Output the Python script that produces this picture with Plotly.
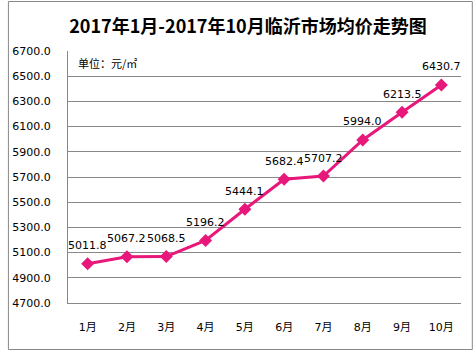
import plotly.graph_objects as go

months = ["1月", "2月", "3月", "4月", "5月", "6月", "7月", "8月", "9月", "10月"]
prices = [5011.8, 5067.2, 5068.5, 5196.2, 5444.1, 5682.4, 5707.2, 5994.0, 6213.5, 6430.7]
y_ticks = [4700, 4900, 5100, 5300, 5500, 5700, 5900, 6100, 6300, 6500, 6700]
title_text = "2017年1月-2017年10月临沂市场均价走势图"
unit_text = "单位：元/㎡"

W, H = 475, 353
ml, mr, mt, mb = 62, 14, 51, 50
pw, ph = W - ml - mr, H - mt - mb

LINE = "#E8187B"
FONT = "DejaVu Sans, Noto Sans CJK SC"

fig = go.Figure()
fig.add_trace(go.Scatter(
    x=months, y=prices, mode="lines+markers",
    line=dict(color=LINE, width=3),
    marker=dict(symbol="diamond", size=10, color=LINE),
    hoverinfo="skip", showlegend=False,
))

for m, p in zip(months, prices):
    fig.add_annotation(x=m, y=p, text=f"{p:.1f}", showarrow=False,
                       yshift=18, font=dict(size=11, color="#000000", family=FONT))

fig.add_annotation(xref="paper", yref="paper", x=8 / pw, y=1 - 12 / ph,
                   xanchor="left", yanchor="middle", text=unit_text, showarrow=False,
                   font=dict(size=11, color="#000000", family="Noto Sans CJK SC"))

# outer frame
fig.add_shape(type="rect", xref="paper", yref="paper",
              x0=(1.5 - ml) / pw, x1=(W - 2.5 - ml) / pw,
              y0=-(H - 3.5 - mt - ph) / ph, y1=1 + (mt - 1.5) / ph,
              line=dict(color="#888888", width=1), layer="below")

fig.update_layout(
    width=W, height=H,
    margin=dict(l=ml, r=mr, t=mt, b=mb),
    paper_bgcolor="white", plot_bgcolor="white",
    title=dict(text=f"<b>{title_text}</b>", x=248 / W, xanchor="center",
               y=1 - 27 / H, yanchor="middle",
               font=dict(size=18, color="#000000", family="Noto Sans CJK SC")),
    xaxis=dict(range=[-0.5, 9.5], showgrid=False, showline=True, linecolor="#888888",
               linewidth=1, ticks="", tickfont=dict(size=11, color="#000000", family=FONT),
               ticklabelstandoff=14, fixedrange=True),
    yaxis=dict(range=[4700, 6700], tickvals=y_ticks, ticktext=[f"{v:.1f}" for v in y_ticks],
               showgrid=True, gridcolor="#888888", gridwidth=1, showline=True,
               linecolor="#888888", linewidth=1, ticks="", zeroline=False,
               tickfont=dict(size=11, color="#000000", family=FONT),
               ticklabelstandoff=14, fixedrange=True),
)

fig.write_html("out.html")
